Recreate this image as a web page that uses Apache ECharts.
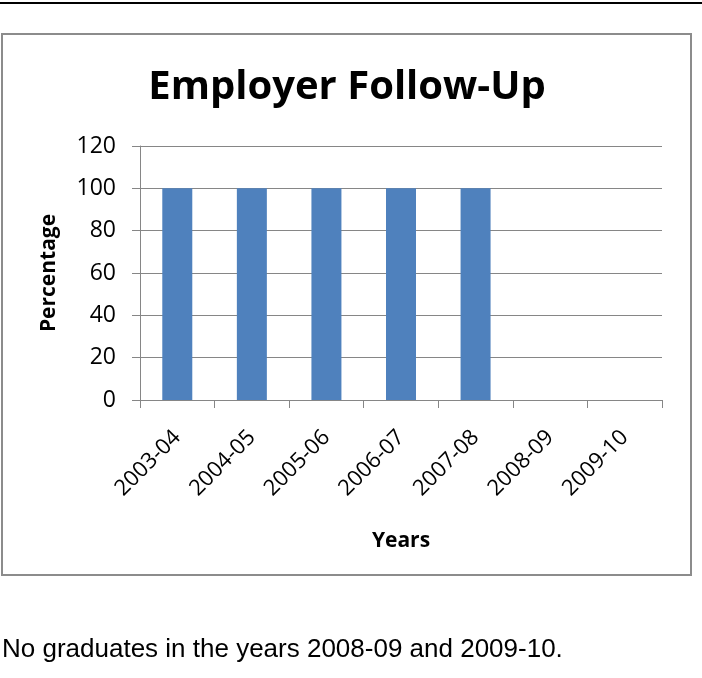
<!DOCTYPE html>
<html>
<head>
<meta charset="utf-8">
<script src="https://cdn.jsdelivr.net/npm/echarts@6/dist/echarts.min.js"></script>
<style>
  html, body { margin: 0; padding: 0; background: #fff; }
  #chart { width: 702px; height: 678px; }
</style>
</head>
<body>
<div id="chart"></div>
<script>
// values
const years = ['2003-04', '2004-05', '2005-06', '2006-07', '2007-08', '2008-09', '2009-10']
const percentage = [100, 100, 100, 100, 100, 0, 0]
const yMin = 0
const yMax = 120
const yStep = 20

const titleText = 'Employer Follow-Up'
const noteText = 'No graduates in the years 2008-09 and 2009-10.'

const gray = '#868686'
const font = 'Open Sans'

const chart = echarts.init(document.getElementById('chart'))

const option = {
  animation: false,
  graphic: [
    {
      type: 'rect',
      shape: { x: 0, y: 2, width: 702, height: 2 },
      style: { fill: '#000' }
    },
    {
      type: 'rect',
      shape: { x: 2, y: 34, width: 689, height: 541 },
      style: { fill: 'none', stroke: '#8c8c8c', lineWidth: 2 }
    },
    {
      type: 'text',
      x: 347,
      y: 88,
      style: {
        text: titleText,
        font: 'bold 40px "Open Sans"',
        fill: '#000',
        align: 'center',
        verticalAlign: 'middle'
      }
    },
    {
      type: 'text',
      x: 2,
      y: 637,
      style: {
        text: noteText,
        font: '26px "Liberation Sans"',
        fill: '#000',
        align: 'left',
        verticalAlign: 'alphabetic'
      }
    }
  ],
  grid: {
    left: 140,
    right: 40,
    top: 146,
    bottom: 278,
    containLabel: false,
    outerBoundsMode: 'none'
  },
  xAxis: {
    type: 'category',
    data: years,
    boundaryGap: true,
    name: 'Years',
    nameLocation: 'middle',
    nameGap: 131,
    nameTextStyle: { fontFamily: font, fontWeight: 'bold', fontSize: 21, color: '#000' },
    axisLine: { show: true, lineStyle: { color: gray, width: 1 } },
    axisTick: { show: true, length: 8, alignWithLabel: false, interval: 0, lineStyle: { color: gray } },
    axisLabel: {
      interval: 0,
      rotate: 45,
      margin: 34,
      fontFamily: font,
      fontSize: 22,
      color: '#000'
    },
    splitLine: { show: false }
  },
  yAxis: {
    type: 'value',
    min: yMin,
    max: yMax,
    interval: yStep,
    name: 'Percentage',
    nameLocation: 'middle',
    nameRotate: 90,
    nameGap: 80,
    nameTextStyle: { fontFamily: font, fontWeight: 'bold', fontSize: 21, color: '#000' },
    axisLine: { show: true, lineStyle: { color: gray, width: 1 } },
    axisTick: { show: true, length: 8, lineStyle: { color: gray } },
    axisLabel: { margin: 24, fontFamily: font, fontSize: 23, color: '#000' },
    splitLine: { show: true, lineStyle: { color: gray, width: 1 } }
  },
  series: [{
    type: 'bar',
    data: percentage,
    barWidth: 30,
    itemStyle: { color: '#4f81bd' }
  }]
}

chart.setOption(option)
</script>
</body>
</html>
